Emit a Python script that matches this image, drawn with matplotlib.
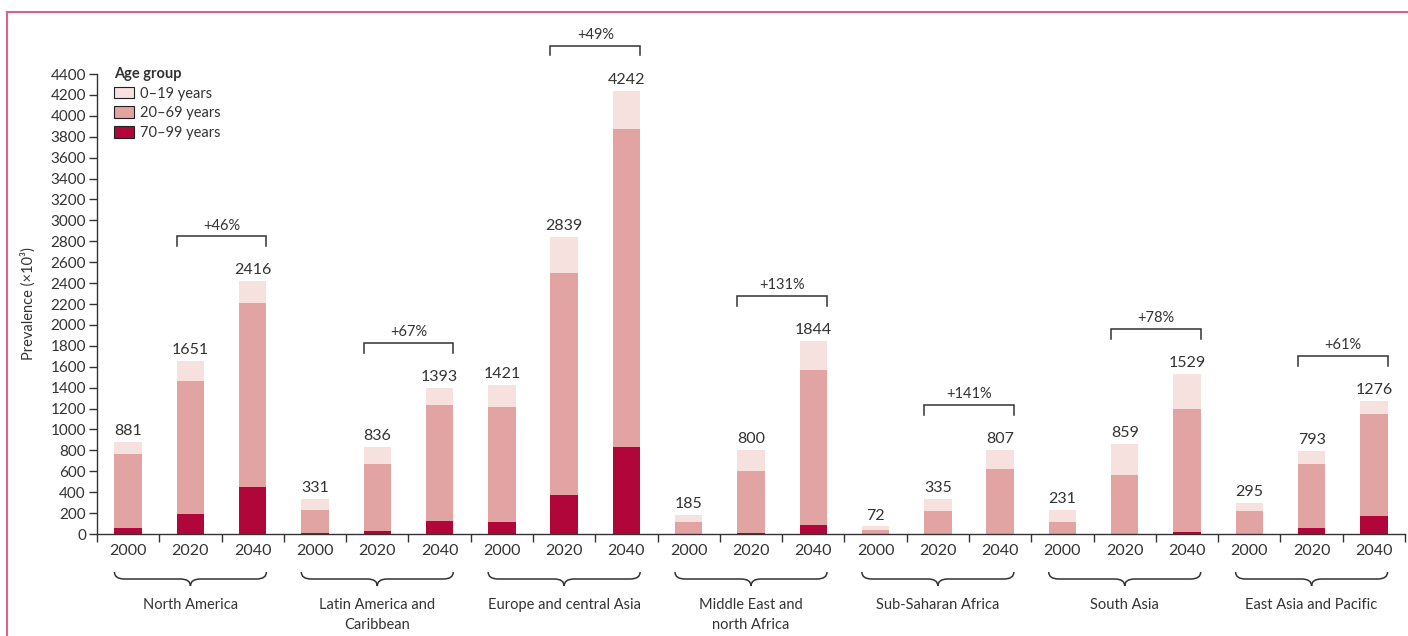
import numpy as np
import matplotlib
matplotlib.use("Agg")
import matplotlib.pyplot as plt
from matplotlib.lines import Line2D
from matplotlib.patches import Patch, PathPatch
from matplotlib.path import Path
import matplotlib.transforms as mtransforms

plt.rcParams['font.family'] = ['Lato', 'DejaVu Sans']

regions = ["North America", "Latin America and\nCaribbean", "Europe and central Asia",
           "Middle East and\nnorth Africa", "Sub-Saharan Africa", "South Asia",
           "East Asia and Pacific"]
years = ["2000", "2020", "2040"]

# prevalence (x10^3) by age group, region-major order: 2000, 2020, 2040
age_70_99 = [60, 190, 450,   5, 30, 125,   115, 373, 832,   2, 5, 85,
             1, 3, 4,   1, 3, 19,   4, 57, 172]
age_20_69 = [705, 1270, 1760,   225, 640, 1105,   1100, 2120, 3040,   113, 598, 1480,
             37, 217, 618,   114, 561, 1177,   216, 613, 976]
totals = [881, 1651, 2416,   331, 836, 1393,   1421, 2839, 4242,   185, 800, 1844,
          72, 335, 807,   231, 859, 1529,   295, 793, 1276]
pct_change = ["+46%", "+67%", "+49%", "+131%", "+141%", "+78%", "+61%"]

age_0_19 = [t - a - b for t, a, b in zip(totals, age_70_99, age_20_69)]

c_old = "#b0063a"
c_mid = "#e2a4a2"
c_young = "#f6e1df"
ink = "#333333"

fig = plt.figure(figsize=(14.08, 6.36), dpi=100)
ax = fig.add_axes([97 / 1408, 1 - 534 / 636, (1405 - 97) / 1408, 460 / 636])

x = np.arange(len(totals)) + 0.5
w = 0.44
bottom_mid = np.array(age_70_99)
bottom_young = bottom_mid + np.array(age_20_69)
ax.bar(x, age_70_99, w, color=c_old, linewidth=0)
ax.bar(x, age_20_69, w, bottom=bottom_mid, color=c_mid, linewidth=0)
ax.bar(x, age_0_19, w, bottom=bottom_young, color=c_young, linewidth=0)

for xi, t in zip(x, totals):
    ax.annotate(str(t), (xi, t), xytext=(0, 5), textcoords="offset points",
                ha="center", va="baseline", fontsize=11.5, color=ink)

ax.set_xlim(0, len(totals))
ax.set_ylim(0, 4400)
ax.set_yticks(np.arange(0, 4401, 200))
ax.tick_params(axis="y", length=6, width=1, color=ink, labelcolor=ink,
               labelsize=11, pad=2)
ax.set_xticks(np.arange(0, len(totals) + 1))
ax.set_xticklabels([])
ax.tick_params(axis="x", which="major", length=6, width=1, color=ink)
ax.set_xticks(x, minor=True)
ax.set_xticklabels(years * len(regions), minor=True)
ax.tick_params(axis="x", which="minor", length=0, pad=7, labelsize=11.5,
               labelcolor=ink)
for s in ["top", "right"]:
    ax.spines[s].set_visible(False)
for s in ["left", "bottom"]:
    ax.spines[s].set_color(ink)
    ax.spines[s].set_linewidth(1)

ax.set_ylabel("Prevalence (×10³)", fontsize=10.5, color=ink)
ax.yaxis.set_label_coords(-0.047, 0.5)

# percentage change brackets over 2020 -> 2040
tick_len = 95
for g, label in enumerate(pct_change):
    i1, i2 = 3 * g + 1, 3 * g + 2
    xl, xr = x[i1] - w / 2, x[i2] + w / 2
    yb = max(totals[i1], totals[i2]) + 430
    ax.plot([xl, xl, xr, xr], [yb - tick_len, yb, yb, yb - tick_len],
            color=ink, lw=1.1, clip_on=False, solid_joinstyle="miter")
    ax.annotate(label, ((xl + xr) / 2, yb), xytext=(0, 5),
                textcoords="offset points", ha="center", va="baseline",
                fontsize=10.5, color=ink, annotation_clip=False)

# curly braces under each region with its name
trans = mtransforms.blended_transform_factory(ax.transData, ax.transAxes)
y_top, y_mid, y_tip = -38 / 460, -45 / 460, -52 / 460
r = 0.16
for g, name in enumerate(regions):
    x0 = x[3 * g] - w / 2
    x1 = x[3 * g + 2] + w / 2
    xc = (x0 + x1) / 2
    verts = [(x0, y_top), (x0, y_mid), (x0 + r, y_mid),
             (xc - r, y_mid), (xc, y_mid), (xc, y_tip),
             (xc, y_mid), (xc + r, y_mid),
             (x1 - r, y_mid), (x1, y_mid), (x1, y_top)]
    codes = [Path.MOVETO, Path.CURVE3, Path.CURVE3,
             Path.LINETO, Path.CURVE3, Path.CURVE3,
             Path.CURVE3, Path.CURVE3,
             Path.LINETO, Path.CURVE3, Path.CURVE3]
    ax.add_patch(PathPatch(Path(verts, codes), transform=trans, fill=False,
                           edgecolor=ink, lw=1.1, clip_on=False))
    ax.text(xc, -64 / 460, name, transform=trans, ha="center", va="top",
            fontsize=10.5, color=ink, linespacing=1.55)

handles = [Patch(facecolor=c_young, edgecolor="#222222", lw=0.8),
           Patch(facecolor=c_mid, edgecolor="#222222", lw=0.8),
           Patch(facecolor=c_old, edgecolor="#222222", lw=0.8)]
leg = ax.legend(handles, ["0–19 years", "20–69 years", "70–99 years"],
                title="Age group", loc="upper left", bbox_to_anchor=(0.005, 1.037),
                frameon=False, fontsize=10.5, handlelength=1.4, handleheight=0.85,
                handletextpad=0.4, labelspacing=0.38, borderpad=0.2,
                alignment="left", title_fontproperties={"weight": "bold", "size": 10.5})
for t in leg.get_texts():
    t.set_color(ink)
leg.get_title().set_color(ink)

# page frame lines
frame = "#d9648a"
fig.add_artist(Line2D([7 / 1408, 1], [1 - 12 / 636, 1 - 12 / 636],
                      transform=fig.transFigure, color=frame, lw=1.5))
fig.add_artist(Line2D([7 / 1408, 7 / 1408], [0, 1 - 12 / 636],
                      transform=fig.transFigure, color=frame, lw=1.5))

fig.savefig("out.png", dpi=100, facecolor="white")
